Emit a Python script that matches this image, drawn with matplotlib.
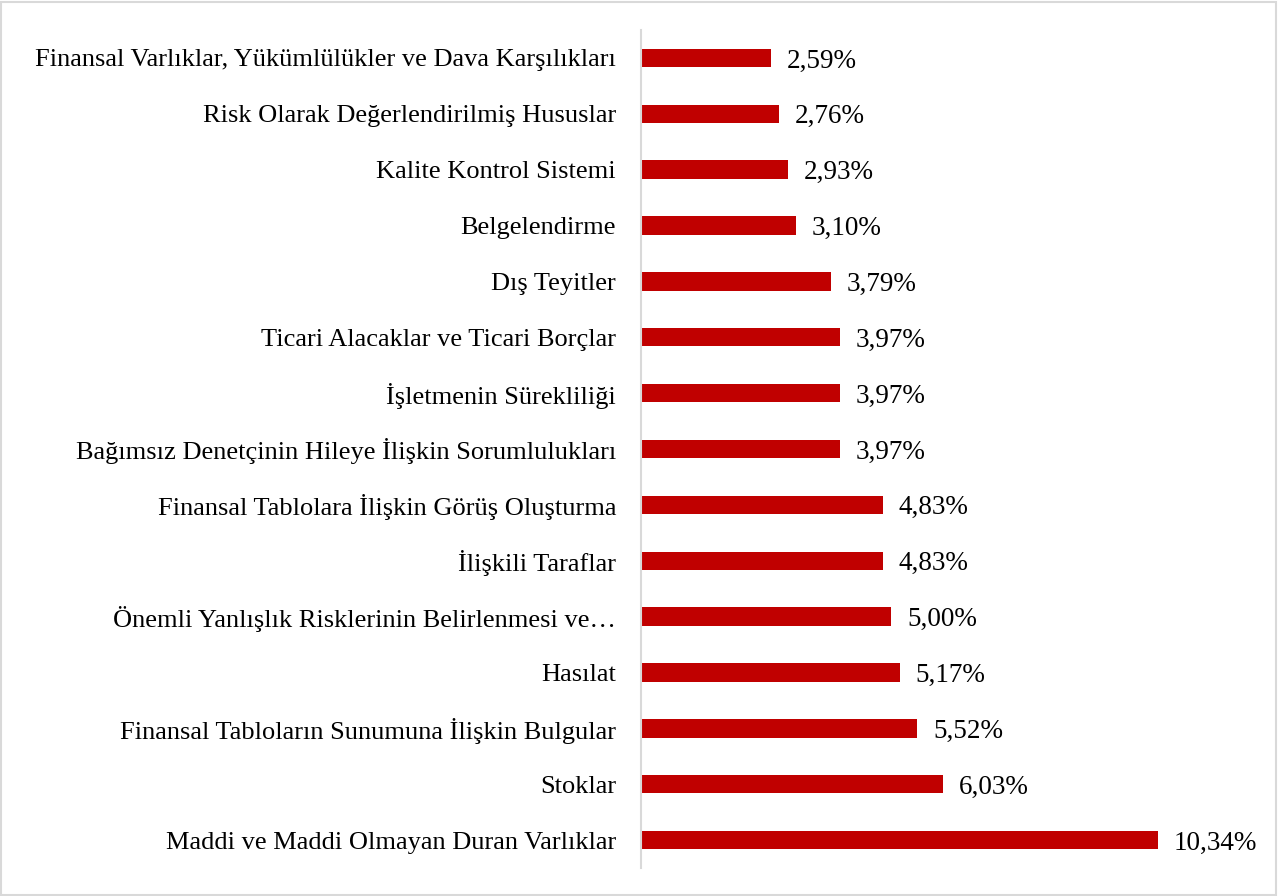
import matplotlib.pyplot as plt

# categories top to bottom as in the chart
categories = [
    "Finansal Varlıklar, Yükümlülükler ve Dava Karşılıkları",
    "Risk Olarak Değerlendirilmiş Hususlar",
    "Kalite Kontrol Sistemi",
    "Belgelendirme",
    "Dış Teyitler",
    "Ticari Alacaklar ve Ticari Borçlar",
    "İşletmenin Sürekliliği",
    "Bağımsız Denetçinin Hileye İlişkin Sorumlulukları",
    "Finansal Tablolara İlişkin Görüş Oluşturma",
    "İlişkili Taraflar",
    "Önemli Yanlışlık Risklerinin Belirlenmesi ve…",
    "Hasılat",
    "Finansal Tabloların Sunumuna İlişkin Bulgular",
    "Stoklar",
    "Maddi ve Maddi Olmayan Duran Varlıklar",
]
values = [2.59, 2.76, 2.93, 3.10, 3.79, 3.97, 3.97, 3.97, 4.83, 4.83, 5.00, 5.17, 5.52, 6.03, 10.34]

plt.rcParams['font.family'] = ['Liberation Serif', 'DejaVu Serif']

fig = plt.figure(figsize=(12.79, 8.96), dpi=100)
ax = fig.add_axes([641 / 1279, 28 / 896, 550 / 1279, 838 / 896])

pos = list(range(len(categories)))
ax.barh(pos, values, height=0.33, color='#C00000')
ax.set_ylim(len(categories) - 0.5, -0.5)
ax.set_xlim(0, 11)

for p, v in zip(pos, values):
    ax.text(v + 0.32, p, f"{v:.2f}".replace('.', ',') + "%", va='center_baseline', ha='left',
            fontsize=19.5, color='black')

ax.set_yticks(pos)
ax.set_yticklabels(categories, fontsize=19)
ax.tick_params(axis='y', length=0, pad=18)
ax.set_xticks([])
for s in ['top', 'right', 'bottom']:
    ax.spines[s].set_visible(False)
ax.spines['left'].set_color('#D9D9D9')
ax.spines['left'].set_linewidth(1.5)

# light frame around the whole chart
fig.patches.append(plt.Rectangle((0.001, 0.001), 0.997, 0.997, transform=fig.transFigure,
                                 fill=False, edgecolor='#D9D9D9', linewidth=1.5))

fig.savefig('out.png', dpi=100)
